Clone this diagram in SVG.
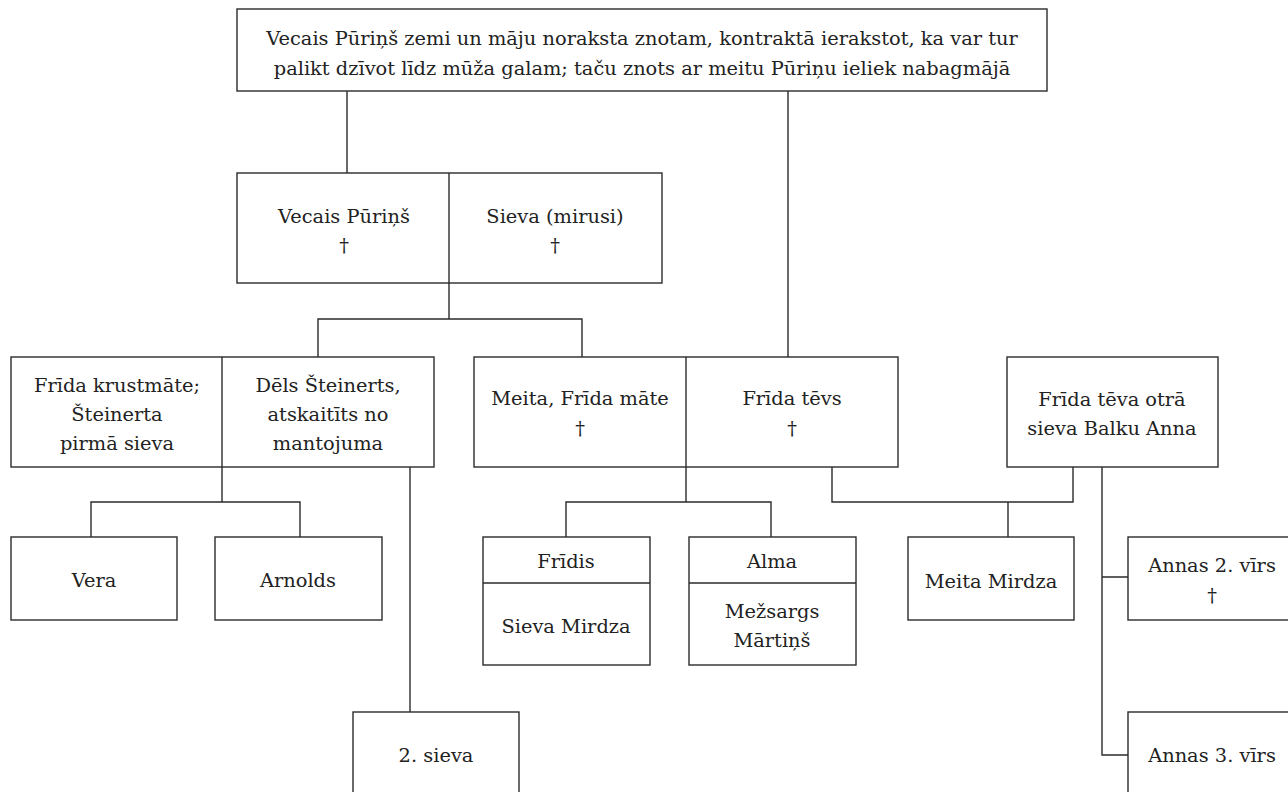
<svg xmlns="http://www.w3.org/2000/svg" width="1288" height="792" viewBox="0 0 1288 792">
<style>
.b{fill:#fff;stroke:#2b2b2b;stroke-width:1.4}
.l{fill:none;stroke:#2b2b2b;stroke-width:1.4}
.t text{font-size:19.4px;fill:#222;text-anchor:middle}
</style>
<rect width="1288" height="792" fill="#fff"/>
<g id="connectors">
<path class="l" d="M347 91V173M788 91V357"/>
<path class="l" d="M449 283V319M318 357V319H582V357"/>
<path class="l" d="M222 467V502M91 537V502H300V537"/>
<path class="l" d="M410 467V712"/>
<path class="l" d="M686 467V502M566 537V502H771V537"/>
<path class="l" d="M832 467V502H1073V467M1008 502V537"/>
<path class="l" d="M1102 467V755H1128M1102 577H1128"/>
</g>
<g class="t" font-family="DejaVu Serif, Liberation Serif, serif">
<g id="n-top">
<rect class="b" x="237" y="9" width="810" height="82"/>
<text x="642" y="45">Vecais Pūriņš zemi un māju noraksta znotam, kontraktā ierakstot, ka var tur</text>
<text x="642" y="75">palikt dzīvot līdz mūža galam; taču znots ar meitu Pūriņu ieliek nabagmājā</text>
</g>
<g id="n-couple1">
<rect class="b" x="237" y="173" width="425" height="110"/>
<path class="l" d="M449 173V283"/>
<text x="344" y="223">Vecais Pūriņš</text>
<text x="344" y="252">†</text>
<text x="555" y="223">Sieva (mirusi)</text>
<text x="555" y="252">†</text>
</g>
<g id="n-steinerts">
<rect class="b" x="11" y="357" width="423" height="110"/>
<path class="l" d="M222 357V467"/>
<text x="117" y="392">Frīda krustmāte;</text>
<text x="117" y="421">Šteinerta</text>
<text x="117" y="450">pirmā sieva</text>
<text x="328" y="392">Dēls Šteinerts,</text>
<text x="328" y="421">atskaitīts no</text>
<text x="328" y="450">mantojuma</text>
</g>
<g id="n-parents">
<rect class="b" x="474" y="357" width="424" height="110"/>
<path class="l" d="M686 357V467"/>
<text x="580" y="405">Meita, Frīda māte</text>
<text x="580" y="435">†</text>
<text x="792" y="405">Frīda tēvs</text>
<text x="792" y="435">†</text>
</g>
<g id="n-anna">
<rect class="b" x="1007" y="357" width="211" height="110"/>
<text x="1112" y="406">Frīda tēva otrā</text>
<text x="1112" y="435">sieva Balku Anna</text>
</g>
<g id="n-vera">
<rect class="b" x="11" y="537" width="166" height="83"/>
<text x="94" y="587">Vera</text>
</g>
<g id="n-arnolds">
<rect class="b" x="215" y="537" width="167" height="83"/>
<text x="298" y="587">Arnolds</text>
</g>
<g id="n-fridis">
<rect class="b" x="483" y="537" width="167" height="128"/>
<path class="l" d="M483 583H650"/>
<text x="566" y="568">Frīdis</text>
<text x="566" y="633">Sieva Mirdza</text>
</g>
<g id="n-alma">
<rect class="b" x="689" y="537" width="167" height="128"/>
<path class="l" d="M689 583H856"/>
<text x="772" y="568">Alma</text>
<text x="772" y="618">Mežsargs</text>
<text x="772" y="647">Mārtiņš</text>
</g>
<g id="n-mirdza">
<rect class="b" x="908" y="537" width="166" height="83"/>
<text x="991" y="588">Meita Mirdza</text>
</g>
<g id="n-sieva2">
<rect class="b" x="353" y="712" width="166" height="100"/>
<text x="436" y="762">2. sieva</text>
</g>
<g id="n-annas2">
<rect class="b" x="1128" y="537" width="168" height="83"/>
<text x="1212" y="572">Annas 2. vīrs</text>
<text x="1212" y="602">†</text>
</g>
<g id="n-annas3">
<rect class="b" x="1128" y="712" width="168" height="100"/>
<text x="1212" y="762">Annas 3. vīrs</text>
</g>
</g>
</svg>
